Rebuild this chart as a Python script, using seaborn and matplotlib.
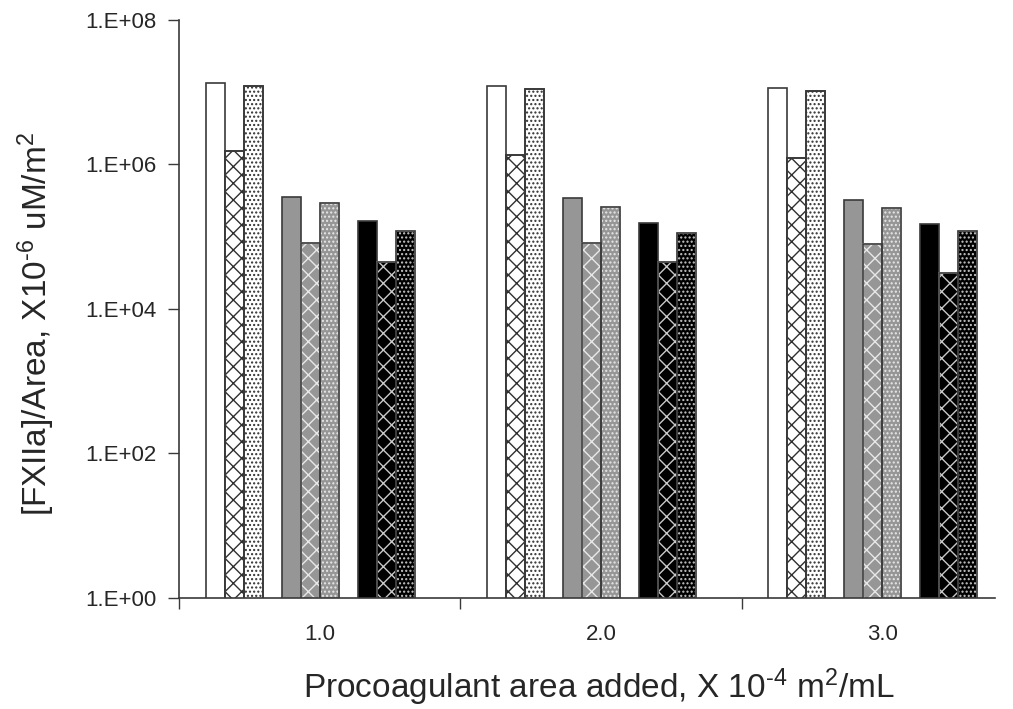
import numpy as np
import pandas as pd
import matplotlib
matplotlib.use("Agg")
import matplotlib.pyplot as plt
import matplotlib.colors as mcolors
from matplotlib.patches import Rectangle
import seaborn as sns
from matplotlib.ticker import FixedLocator, FixedFormatter, NullLocator

# ---- data ----
categories = ["1.0", "2.0", "3.0"]
series_names = ["white", "white_cross", "white_dots",
                "gray", "gray_cross", "gray_dots",
                "black", "black_cross", "black_dots"]
white       = [1.33e7, 1.22e7, 1.16e7]
white_cross = [1.55e6, 1.35e6, 1.23e6]
white_dots  = [1.22e7, 1.10e7, 1.05e7]
gray        = [3.55e5, 3.40e5, 3.26e5]
gray_cross  = [8.3e4, 8.2e4, 7.9e4]
gray_dots   = [2.96e5, 2.60e5, 2.50e5]
black       = [1.65e5, 1.57e5, 1.50e5]
black_cross = [4.4e4, 4.4e4, 3.1e4]
black_dots  = [1.20e5, 1.14e5, 1.20e5]
ytick_vals = [1, 1e2, 1e4, 1e6, 1e8]
ytick_labels = ["1.E+00", "1.E+02", "1.E+04", "1.E+06", "1.E+08"]

values = [white, white_cross, white_dots, gray, gray_cross, gray_dots,
          black, black_cross, black_dots]

# spacer hue levels so sub-groups are separated (as in the original)
hue_order = ["white", "white_cross", "white_dots", "sp1",
             "gray", "gray_cross", "gray_dots", "sp2",
             "black", "black_cross", "black_dots", "sp3"]

rows = []
for name, vals in zip(series_names, values):
    for c, v in zip(categories, vals):
        rows.append({"cat": c, "series": name, "value": v})
for sp in ["sp1", "sp2", "sp3"]:
    for c in categories:
        rows.append({"cat": c, "series": sp, "value": np.nan})
df = pd.DataFrame(rows)

EDGE = "#3a3a3a"
styles = {
    "white":       ("#ffffff", None, None),
    "white_cross": ("#ffffff", "xx", "#303030"),
    "white_dots":  ("#ffffff", "....", "#303030"),
    "gray":        ("#969696", None, None),
    "gray_cross":  ("#969696", "xx", "#e8e8e8"),
    "gray_dots":   ("#969696", "....", "#e8e8e8"),
    "black":       ("#000000", None, None),
    "black_cross": ("#000000", "xx", "#c8c8c8"),
    "black_dots":  ("#000000", "....", "#c8c8c8"),
}

# unique id colours per hue level, used to identify the bars afterwards
id_colors = {k: "#%02x%02x%02x" % (10 + 20 * i, 30, 200) for i, k in enumerate(hue_order)}
id_to_name = {v: k for k, v in id_colors.items()}

sns.set_style("white")
plt.rcParams["font.family"] = ["Liberation Sans", "DejaVu Sans"]
plt.rcParams["mathtext.default"] = "regular"
plt.rcParams["hatch.linewidth"] = 1.0

fig = plt.figure(figsize=(10.13, 7.09), dpi=100)
ax = fig.add_axes([0.1767, 0.1566, 0.8053, 0.8152])

sns.barplot(data=df, x="cat", y="value", hue="series", hue_order=hue_order,
            order=categories, palette=id_colors, width=0.81, dodge=True,
            errorbar=None, legend=False, ax=ax, saturation=1,
            edgecolor=EDGE, linewidth=1.2, log_scale=(False, True))

for p in list(ax.patches):
    key = mcolors.to_hex(p.get_facecolor())
    name = id_to_name.get(key)
    if name is None or name not in styles:
        p.set_visible(False)
        continue
    fc, hatch, hc = styles[name]
    p.set_facecolor(fc)
    if hatch:
        p.set_hatch(hatch)
        # hatch takes the edge colour; redraw the outline on top
        p.set_edgecolor(hc)
        outline = Rectangle(p.get_xy(), p.get_width(), p.get_height(),
                            fill=False, edgecolor=EDGE, linewidth=1.2,
                            zorder=p.get_zorder() + 0.1)
        ax.add_patch(outline)

ax.set_yscale("log")
ax.set_ylim(1, 1e8)
ax.set_xlim(-0.5, 2.4)
ax.yaxis.set_major_locator(FixedLocator(ytick_vals))
ax.yaxis.set_major_formatter(FixedFormatter(ytick_labels))
ax.yaxis.set_minor_locator(NullLocator())
ax.tick_params(axis="y", which="major", direction="out", length=8, width=1,
               color=EDGE, labelsize=16, pad=8, left=True)

ax.set_xticks([0, 1, 2])
ax.set_xticklabels(categories)
ax.set_xticks([-0.5, 0.5, 1.5], minor=True)
ax.tick_params(axis="x", which="major", length=0, labelsize=16, pad=19)
ax.tick_params(axis="x", which="minor", direction="out", length=8, width=1,
               color=EDGE, bottom=True)

for s in ["top", "right"]:
    ax.spines[s].set_visible(False)
for s in ["left", "bottom"]:
    ax.spines[s].set_color(EDGE)
    ax.spines[s].set_linewidth(1.2)

ax.set_xlabel("Procoagulant area added, X 10$^{\u20104}$ m$^{2}$/mL",
              fontsize=24, labelpad=16)
ax.set_ylabel("[FXIIa]/Area, X10$^{\u20106}$ uM/m$^{2}$", fontsize=24, labelpad=22)
ax.xaxis.set_label_coords(0.515, -0.118)
ax.yaxis.set_label_coords(-0.15, 0.475)

fig.savefig("out.png", dpi=100)
